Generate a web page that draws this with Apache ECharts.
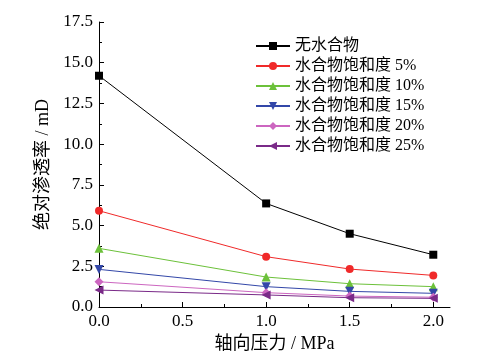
<!DOCTYPE html>
<html><head><meta charset="utf-8">
<script src="https://cdn.jsdelivr.net/npm/echarts@6/dist/echarts.min.js"></script>
<style>html,body{margin:0;padding:0;background:#fff}#c{width:497px;height:355px}</style>
</head><body><div id="c"></div>
<script>
const pressure = [0, 1.0, 1.5, 2.0];
const names = ['无水合物','水合物饱和度 5%','水合物饱和度 10%','水合物饱和度 15%','水合物饱和度 20%','水合物饱和度 25%'];
const s0 = [14.2, 6.36, 4.5, 3.21];
const s5 = [5.91, 3.09, 2.33, 1.94];
const s10 = [3.6, 1.84, 1.43, 1.25];
const s15 = [2.31, 1.25, 0.96, 0.84];
const s20 = [1.55, 0.88, 0.67, 0.6];
const s25 = [1.04, 0.74, 0.57, 0.53];
const xMajor = [0, 0.5, 1.0, 1.5, 2.0];
const xMinor = [0.25, 0.75, 1.25, 1.75];

const allSeries = [s0, s5, s10, s15, s20, s25];
const colors = ['#000000', '#f02a2a', '#6cc13a', '#3347a8', '#cc66c0', '#7a2a88'];
const symbols = ['rect', 'circle', 'triangle', 'triangle', 'diamond', 'triangle'];
const rotates = [0, 0, 0, 180, 0, 90];
const sizes = [8, 8, 9, 9, 9, 9];
const FONT = "'Liberation Serif', 'Noto Sans CJK SC', serif";

const chart = echarts.init(document.getElementById('c'));
chart.setOption({
  animation: false,
  backgroundColor: '#fff',
  textStyle: {fontFamily: FONT},
  grid: {left: 99, right: 47, top: 22, bottom: 48, containLabel: false, outerBoundsMode: 'none'},
  legend: {
    orient: 'vertical', left: 250, top: 33,
    itemWidth: 34, itemHeight: 10, itemGap: 4,
    textStyle: {fontFamily: FONT, fontSize: 16, color: '#000', lineHeight: 16},
    data: names
  },
  xAxis: [{
    type: 'value', min: 0, max: 2.1,
    name: '轴向压力 / MPa', nameLocation: 'middle', nameGap: 27,
    nameTextStyle: {fontFamily: FONT, fontSize: 18, color: '#000'},
    axisLine: {lineStyle: {color: '#000', width: 1}},
    axisTick: {inside: true, length: 5, customValues: xMajor, lineStyle: {color: '#000'}},
    axisLabel: {customValues: xMajor, formatter: v => v.toFixed(1), fontFamily: FONT, fontSize: 17, color: '#000', margin: 6},
    splitLine: {show: false}
  }, {
    type: 'value', min: 0, max: 2.1, position: 'bottom',
    axisLine: {show: false},
    axisTick: {inside: true, length: 3, customValues: xMinor, lineStyle: {color: '#000'}},
    axisLabel: {show: false},
    splitLine: {show: false}
  }],
  yAxis: {
    type: 'value', min: 0, max: 17.5, interval: 2.5,
    name: '绝对渗透率 / mD', nameLocation: 'middle', nameGap: 39,
    nameTextStyle: {fontFamily: FONT, fontSize: 18, color: '#000'},
    axisLine: {show: true, lineStyle: {color: '#000', width: 1}},
    axisTick: {show: true, inside: true, length: 5, lineStyle: {color: '#000'}},
    minorTick: {show: true, splitNumber: 2, length: 3, lineStyle: {color: '#000'}},
    axisLabel: {formatter: v => v.toFixed(1), fontFamily: FONT, fontSize: 17, color: '#000', margin: 6},
    splitLine: {show: false}
  },
  series: allSeries.map((arr, i) => ({
    name: names[i], type: 'line',
    data: pressure.map((p, j) => [p, arr[j]]),
    symbol: symbols[i], symbolRotate: rotates[i], symbolSize: sizes[i],
    color: colors[i],
    lineStyle: {width: 1, color: colors[i]},
    itemStyle: {color: colors[i]}
  }))
});
</script></body></html>
